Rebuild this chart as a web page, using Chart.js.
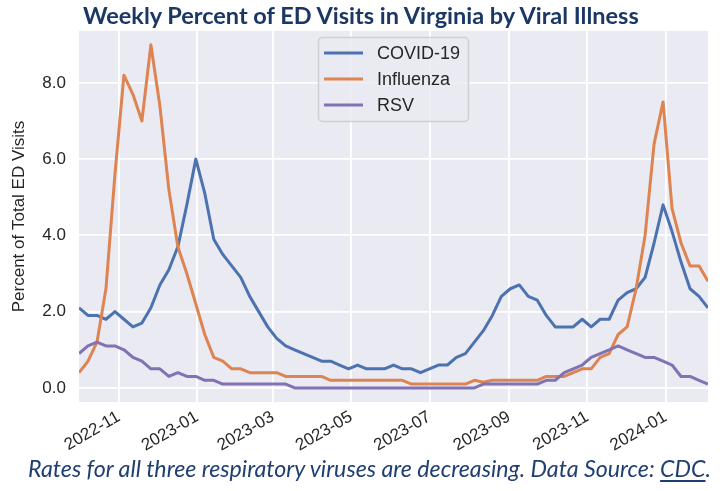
<!DOCTYPE html>
<html>
<head>
<meta charset="utf-8">
<script src="https://cdn.jsdelivr.net/npm/chart.js@4.4.0/dist/chart.umd.min.js"></script>
<style>
  html, body { margin: 0; padding: 0; background: #fff; }
  #wrap { position: relative; width: 724px; height: 491px; overflow: hidden; }
  #chart { position: absolute; left: 0; top: 0; }
  .txt { position: absolute; white-space: nowrap; line-height: 1; font-family: Lato, "Open Sans", sans-serif; }
  #title { font-weight: bold; font-size: 22px; color: #1b3764; }
  #caption { font-style: italic; font-size: 20px; color: #1f3f73; }
  #caption u { text-underline-offset: 3px; }
</style>
</head>
<body>
<div id="wrap">
  <canvas id="chart" width="724" height="491"></canvas>
  <span id="title" class="txt">Weekly Percent of ED Visits in Virginia by Viral Illness</span>
  <span id="caption" class="txt">Rates for all three respiratory viruses are decreasing. Data Source: <u>CDC</u>.</span>
</div>
<script>
// week ending dates (Saturdays)
const weekEnding = [
  '2022-10-01','2022-10-08','2022-10-15','2022-10-22','2022-10-29','2022-11-05','2022-11-12','2022-11-19','2022-11-26','2022-12-03',
  '2022-12-10','2022-12-17','2022-12-24','2022-12-31','2023-01-07','2023-01-14','2023-01-21','2023-01-28','2023-02-04','2023-02-11',
  '2023-02-18','2023-02-25','2023-03-04','2023-03-11','2023-03-18','2023-03-25','2023-04-01','2023-04-08','2023-04-15','2023-04-22',
  '2023-04-29','2023-05-06','2023-05-13','2023-05-20','2023-05-27','2023-06-03','2023-06-10','2023-06-17','2023-06-24','2023-07-01',
  '2023-07-08','2023-07-15','2023-07-22','2023-07-29','2023-08-05','2023-08-12','2023-08-19','2023-08-26','2023-09-02','2023-09-09',
  '2023-09-16','2023-09-23','2023-09-30','2023-10-07','2023-10-14','2023-10-21','2023-10-28','2023-11-04','2023-11-11','2023-11-18',
  '2023-11-25','2023-12-02','2023-12-09','2023-12-16','2023-12-23','2023-12-30','2024-01-06','2024-01-13','2024-01-20','2024-01-27',
  '2024-02-03'
];

const covid = [
  2.1, 1.9, 1.9, 1.8, 2.0, 1.8, 1.6, 1.7, 2.1, 2.7,
  3.1, 3.7, 4.8, 6.0, 5.1, 3.9, 3.5, 3.2, 2.9, 2.4,
  2.0, 1.6, 1.3, 1.1, 1.0, 0.9, 0.8, 0.7, 0.7, 0.6,
  0.5, 0.6, 0.5, 0.5, 0.5, 0.6, 0.5, 0.5, 0.4, 0.5,
  0.6, 0.6, 0.8, 0.9, 1.2, 1.5, 1.9, 2.4, 2.6, 2.7,
  2.4, 2.3, 1.9, 1.6, 1.6, 1.6, 1.8, 1.6, 1.8, 1.8,
  2.3, 2.5, 2.6, 2.9, 3.8, 4.8, 4.1, 3.3, 2.6, 2.4,
  2.1
];

const influenza = [
  0.4, 0.7, 1.2, 2.6, 5.6, 8.2, 7.7, 7.0, 9.0, 7.4,
  5.2, 3.7, 3.0, 2.2, 1.4, 0.8, 0.7, 0.5, 0.5, 0.4,
  0.4, 0.4, 0.4, 0.3, 0.3, 0.3, 0.3, 0.3, 0.2, 0.2,
  0.2, 0.2, 0.2, 0.2, 0.2, 0.2, 0.2, 0.1, 0.1, 0.1,
  0.1, 0.1, 0.1, 0.1, 0.2, 0.15, 0.2, 0.2, 0.2, 0.2,
  0.2, 0.2, 0.3, 0.3, 0.3, 0.4, 0.5, 0.5, 0.8, 0.9,
  1.4, 1.6, 2.6, 4.0, 6.4, 7.5, 4.7, 3.8, 3.2, 3.2,
  2.8
];

const rsv = [
  0.9, 1.1, 1.2, 1.1, 1.1, 1.0, 0.8, 0.7, 0.5, 0.5,
  0.3, 0.4, 0.3, 0.3, 0.2, 0.2, 0.1, 0.1, 0.1, 0.1,
  0.1, 0.1, 0.1, 0.1, 0.0, 0.0, 0.0, 0.0, 0.0, 0.0,
  0.0, 0.0, 0.0, 0.0, 0.0, 0.0, 0.0, 0.0, 0.0, 0.0,
  0.0, 0.0, 0.0, 0.0, 0.0, 0.1, 0.1, 0.1, 0.1, 0.1,
  0.1, 0.1, 0.2, 0.2, 0.4, 0.5, 0.6, 0.8, 0.9, 1.0,
  1.1, 1.0, 0.9, 0.8, 0.8, 0.7, 0.6, 0.3, 0.3, 0.2,
  0.1
];

const xTickLabels = ['2022-11', '2023-01', '2023-03', '2023-05', '2023-07', '2023-09', '2023-11', '2024-01'];
const yTicks = [0, 2, 4, 6, 8];

const toMs = s => {
  const p = s.split('-').map(Number);
  return Date.UTC(p[0], p[1] - 1, p[2] || 1);
};

const points = arr => arr.map((v, i) => ({ x: toMs(weekEnding[i]), y: v }));

const textColor = '#262626';
const tickFont = { family: '"Liberation Sans", Arial, sans-serif', size: 17 };

// grey plot background, seaborn style
const plotBg = {
  id: 'plotBg',
  beforeDraw(chart) {
    const { ctx, chartArea: a } = chart;
    ctx.save();
    ctx.fillStyle = '#eaeaf2';
    ctx.fillRect(a.left, a.top, a.right - a.left, a.bottom - a.top);
    ctx.restore();
  }
};

// legend box inside the plot
const legendBox = {
  id: 'legendBox',
  afterDraw(chart) {
    const ctx = chart.ctx;
    const x = 318, y = 37, w = 150, h = 84, r = 4;
    ctx.save();
    ctx.beginPath();
    ctx.roundRect(x + 0.5, y + 0.5, w, h, r);
    ctx.fillStyle = 'rgba(234,234,242,0.85)';
    ctx.fill();
    ctx.strokeStyle = '#cfcfd4';
    ctx.lineWidth = 1.5;
    ctx.stroke();
    ctx.font = '18px "Liberation Sans", Arial, sans-serif';
    ctx.textBaseline = 'middle';
    ctx.fillStyle = textColor;
    chart.data.datasets.forEach((ds, i) => {
      const ly = 53 + i * 26;
      ctx.beginPath();
      ctx.moveTo(324, ly);
      ctx.lineTo(363, ly);
      ctx.strokeStyle = ds.borderColor;
      ctx.lineWidth = 3;
      ctx.stroke();
      ctx.fillText(ds.label, 377, ly + 1);
    });
    ctx.restore();
  }
};

new Chart(document.getElementById('chart').getContext('2d'), {
  type: 'line',
  data: {
    datasets: [
      { label: 'COVID-19', data: points(covid), borderColor: '#4c72b0', order: 3 },
      { label: 'Influenza', data: points(influenza), borderColor: '#dd8452', order: 2 },
      { label: 'RSV', data: points(rsv), borderColor: '#8172b3', order: 1 }
    ].map(d => Object.assign(d, { borderWidth: 3, pointRadius: 0, tension: 0, borderJoinStyle: 'round', clip: 0 }))
  },
  options: {
    responsive: false,
    animation: false,
    layout: { padding: { top: 31, right: 16, bottom: 0, left: 0 } },
    plugins: { legend: { display: false }, tooltip: { enabled: false } },
    scales: {
      x: {
        type: 'linear',
        min: toMs(weekEnding[0]),
        max: toMs(weekEnding[weekEnding.length - 1]),
        grid: { color: '#ffffff', lineWidth: 1.8, drawTicks: false },
        border: { display: false },
        afterBuildTicks: s => { s.ticks = xTickLabels.map(l => ({ value: toMs(l) })); },
        afterFit: s => { s.height = 89; s.paddingLeft = 0; s.paddingRight = 0; },
        ticks: {
          autoSkip: false,
          minRotation: 30,
          maxRotation: 30,
          padding: 5,
          color: textColor,
          font: tickFont,
          callback: (v, i) => xTickLabels[i]
        }
      },
      y: {
        min: -0.37,
        max: 9.36,
        grid: { color: '#ffffff', lineWidth: 1.8, drawTicks: false },
        border: { display: false },
        afterBuildTicks: s => { s.ticks = yTicks.map(v => ({ value: v })); },
        afterFit: s => { s.width = 79; s.paddingTop = 0; s.paddingBottom = 0; },
        ticks: {
          padding: 13,
          color: textColor,
          font: tickFont,
          callback: v => v.toFixed(1)
        },
        title: {
          display: true,
          text: 'Percent of Total ED Visits',
          color: textColor,
          font: tickFont,
          padding: { top: 9, bottom: 0 }
        }
      }
    }
  },
  plugins: [plotBg, legendBox]
});

// fit the html title and caption to the measured widths, then place them on their baselines
function placeText(el, left, baseline, width) {
  const size = parseFloat(getComputedStyle(el).fontSize);
  el.style.fontSize = (size * width / el.getBoundingClientRect().width) + 'px';
  const probe = document.createElement('span');
  probe.style.cssText = 'display:inline-block;width:0;height:0;vertical-align:baseline';
  el.appendChild(probe);
  const base = probe.getBoundingClientRect().bottom - el.getBoundingClientRect().top;
  el.style.left = left + 'px';
  el.style.top = (baseline - base) + 'px';
}
placeText(document.getElementById('title'), 83, 24, 556);
placeText(document.getElementById('caption'), 28, 477, 683);
</script>
</body>
</html>
